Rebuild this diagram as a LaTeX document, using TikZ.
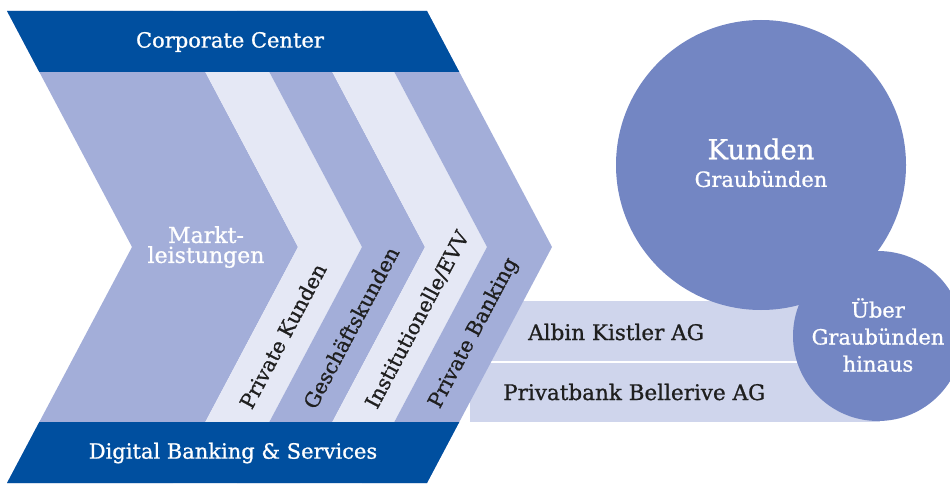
\documentclass[tikz,border=0pt]{standalone}
\usepackage{fontspec}
\setmainfont{DejaVu Serif}[UprightFeatures={FakeBold=0.9}]
\definecolor{dkblue}{HTML}{004F9F}
\definecolor{midband}{HTML}{A3AED9}
\definecolor{ltband}{HTML}{E5E8F5}
\definecolor{circ}{HTML}{7386C3}
\definecolor{barfill}{HTML}{CFD5EC}
\definecolor{txt}{HTML}{1F1F1F}
\newcommand\gkbband[3]{\fill[#3] ({#1-125},11) -- (#1,247) -- ({#1-125},483) -- ({#2-125},483) -- (#2,247) -- ({#2-125},11) -- cycle;}
\begin{document}
\begin{tikzpicture}[x=1pt,y=-1pt,
  bannertxt/.style={text=white,font=\fontsize{21}{24}\selectfont,inner sep=0pt},
  bandtxt/.style={text=txt,font=\fontsize{20.5}{24}\selectfont,rotate=62,anchor=west,inner sep=0pt},
  bartxt/.style={text=txt,font=\fontsize{21.5}{24}\selectfont,anchor=west,inner sep=0pt},
  bigtxt/.style={text=white,font=\fontsize{27.5}{30}\selectfont,inner sep=0pt},
  circtxt/.style={text=white,font=\fontsize{21}{27}\selectfont,inner sep=0pt,align=center}]
\useasboundingbox (0,0) rectangle (950,484);
% bars
\fill[barfill] (470,301) rectangle (880,422);
\draw[white,line width=1.5pt] (470,362) -- (820,362);
% bands
\gkbband{132}{298}{midband}
\gkbband{298}{362}{ltband}
\gkbband{362}{425}{midband}
\gkbband{425}{487}{ltband}
\gkbband{487}{552}{midband}
% banners
\fill[dkblue] (7,11) -- (427,11) -- (459.3,72) -- (39.3,72) -- cycle;
\fill[dkblue] (39.3,422) -- (459.3,422) -- (427,483) -- (7,483) -- cycle;
% circles
\fill[circ] (761,165) circle[radius=145];
\fill[circ] (878,336) circle[radius=85];
% texts
\node[bannertxt] (cc) at (230,42) {Corporate Center};
\node[bannertxt] (dbs) at (233,453) {Digital Banking \& Services};
\node[bannertxt,align=center,font=\fontsize{22}{20}\selectfont] (ml) at (206,247) {Markt-\\leistungen};
\node[bandtxt] (pk) at (245,407) {Private Kunden};
\node[bandtxt] (gk) at (308.7,407) {Geschäftskunden};
\node[bandtxt] (inst) at (371,407) {Institutionelle/EVV};
\node[bandtxt] (pb) at (434.7,407) {Private Banking};
\node[bartxt] (ak) at (528,332) {Albin Kistler AG};
\node[bartxt] (pbb) at (503,392) {Privatbank Bellerive AG};
\node[bigtxt] (ku) at (761,149) {Kunden};
\node[circtxt] (gr) at (761,179) {Graubünden};
\node[circtxt] (ub) at (878,335) {Über\\Graubünden\\hinaus};
\end{tikzpicture}
\end{document}
